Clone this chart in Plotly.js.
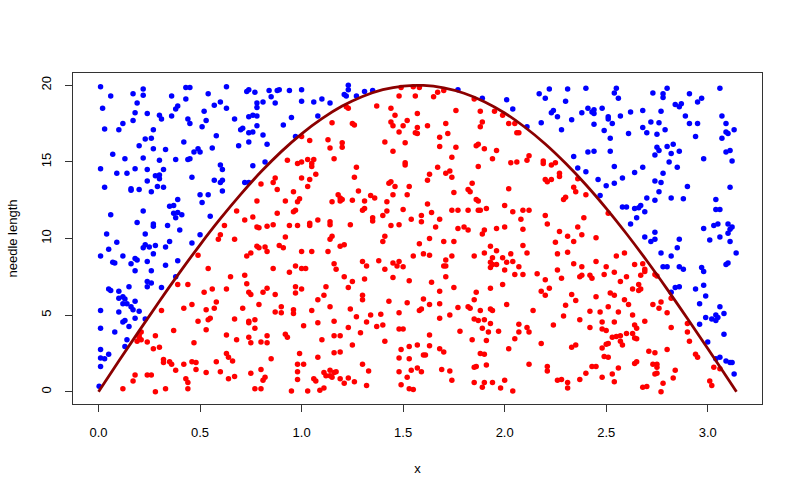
<!DOCTYPE html>
<html>
<head>
<meta charset="utf-8">
<script src="https://cdn.plot.ly/plotly-3.0.1.min.js"></script>
<style>html,body{margin:0;padding:0;background:#fff;}#chart{width:800px;height:496px;}</style>
</head>
<body>
<div id="chart"></div>
<script>
// needle drops that missed the line (above the curve)
const blueX = [0.01,0.06,0.22,0.17,0.22,0.43,0.45,0.63,0.73,0.74,0.36,0.54,0.43,0.19,0.02,0.39,0.38,0.57,0.60,0.63,0.18,0.24,0.30,0.31,0.36,0.52,0.44,0.45,0.53,0.17,0.12,0.10,0.03,0.27,0.51,0.67,0.74,0.76,0.70,0.71,0.74,0.58,0.23,0.26,0.42,0.20,0.27,0.33,0.47,0.49,0.50,0.56,0.69,0.74,0.07,0.13,0.22,0.30,0.38,0.44,0.45,0.60,0.61,0.01,0.09,0.14,0.18,0.24,0.32,0.28,0.30,0.30,0.46,0.24,0.29,0.32,0.57,0.61,0.60,0.72,0.74,0.03,0.16,0.16,0.20,0.26,0.61,0.50,0.54,0.39,0.51,0.35,0.37,0.22,0.37,0.39,0.41,0.38,0.06,0.55,0.19,0.27,0.27,0.34,0.40,0.04,0.23,0.50,
0.77,0.84,0.88,0.89,0.94,1.00,0.85,0.78,0.81,0.87,1.00,1.06,1.10,1.14,0.78,0.78,0.78,0.76,0.81,0.83,0.82,0.76,0.95,0.91,1.08,0.97,1.23,1.23,1.21,1.22,1.27,1.31,1.35,
1.77,1.89,2.01,2.04,2.11,2.17,2.20,2.22,2.31,2.30,2.40,2.23,2.24,2.26,2.33,2.38,2.41,2.43,2.18,2.28,2.34,2.36,2.40,2.41,
2.55,2.54,2.56,2.73,2.78,2.78,2.80,2.91,2.97,2.95,3.06,2.84,2.86,2.87,2.77,2.68,2.62,2.57,2.51,2.51,2.48,2.44,2.44,2.44,2.53,2.49,2.52,2.61,2.68,2.70,2.72,2.76,2.75,2.79,2.89,2.91,2.95,3.07,3.09,3.13,3.10,3.09,3.07,2.94,2.75,2.76,2.74,2.80,2.83,2.82,2.86,2.44,2.52,2.81,2.85,2.98,3.09,3.11,3.12,2.54,2.64,2.68,2.78,2.74,2.77,2.58,2.46,2.50,2.54,2.90,3.11,2.76,2.70,2.74,2.82,2.88,3.04,2.47,2.58,2.60,2.64,2.66,2.67,2.69,2.65,2.62,3.04,3.06,2.98,3.03,3.05,3.10,3.11,3.12,3.10,3.06,2.74,2.69,
0.09,0.05,0.01,0.12,0.07,0.08,0.16,0.18,0.19,0.23,0.22,0.25,0.28,0.33,0.35,0.27,0.24,0.18,0.26,0.33,0.39,0.46,0.38,0.24,0.26,0.24,0.31,0.15,0.05,0.06,0.10,0.12,0.10,0.13,0.12,0.14,0.18,0.16,0.17,0.20,0.10,0.01,0.18,0.23,0.13,0.12,0.15,0.01,0.08,0.14,0.13,0.01,0.05,0.01,0.03,0.01,0.003,
2.72,2.74,2.86,3.01,3.11,3.14,2.77,2.82,2.85,2.78,2.80,2.86,2.88,2.97,2.98,3.09,3.10,2.82,2.84,2.86,2.94,2.98,2.99,2.96,3.06,2.99,3.02,3.04,3.04,3.05,3.08,2.96,3.08,3.00,3.04,3.06,3.09,3.11,3.12,3.13];
const blueY = [19.9,19.3,19.75,19.45,19.35,19.85,19.85,19.9,19.6,19.7,19.3,19.45,19.1,18.85,18.5,18.65,18.45,18.7,18.9,18.5,18.2,18.15,18.05,17.8,18.0,18.3,17.8,17.5,17.7,17.7,17.5,17.1,17.15,17.1,17.3,17.8,17.95,18.05,17.1,17.2,16.9,16.7,16.5,16.55,16.3,16.05,15.85,15.8,15.65,15.85,15.65,15.9,16.05,16.3,15.5,15.2,15.25,15.1,15.15,15.15,15.2,14.8,14.5,14.55,14.25,14.25,14.55,14.5,14.5,14.1,14.15,13.9,14.0,13.75,13.4,13.35,13.8,13.8,13.65,13.65,13.65,13.35,13.25,13.15,13.2,13.05,13.1,12.85,12.85,12.55,12.35,12.1,12.15,11.8,11.65,11.7,11.55,11.35,11.55,11.45,11.05,10.8,10.95,10.85,10.55,10.3,10.3,10.25,
19.55,19.65,19.65,19.7,19.65,19.7,19.25,18.85,18.9,18.85,18.95,18.9,19.1,18.85,18.55,18.0,17.35,16.95,16.75,16.15,15.0,14.75,17.9,17.4,18.0,16.65,20.0,19.7,19.4,19.3,19.3,19.6,19.65,
19.7,19.15,19.05,18.45,17.3,19.45,19.15,19.75,19.75,18.95,19.8,18.2,18.35,17.95,17.75,18.2,18.5,18.25,17.55,17.1,15.35,14.6,14.35,15.65,
19.8,19.5,19.15,19.5,19.45,19.2,19.8,19.45,19.15,18.9,19.8,18.75,18.6,18.8,18.3,18.35,18.25,18.0,17.95,17.8,18.5,18.4,18.15,17.45,17.5,17.05,16.55,16.85,17.25,16.9,17.6,17.55,16.8,17.1,18.0,17.5,17.5,18.0,17.5,17.1,16.85,16.95,16.55,16.65,15.95,15.75,15.45,16.0,16.15,15.55,15.7,15.7,15.7,15.0,14.65,15.2,15.65,15.75,15.05,14.7,14.3,14.65,14.25,13.75,13.65,13.95,13.85,13.45,13.6,13.4,13.35,13.05,12.65,12.5,12.65,12.6,12.55,12.8,12.05,12.05,11.95,12.0,12.15,11.75,11.35,10.95,11.9,11.9,10.65,10.85,10.95,10.95,10.6,10.75,10.35,10.1,10.4,10.1,
9.75,9.3,8.85,8.85,8.45,8.4,8.35,8.7,8.6,9.6,9.4,9.45,9.55,9.45,9.8,9.0,8.5,7.9,7.9,8.25,8.55,9.7,7.5,7.2,7.1,6.85,6.8,6.85,6.7,6.6,6.55,6.2,6.1,6.05,5.75,5.75,5.9,5.55,5.35,5.25,5.2,5.3,4.8,4.75,4.65,4.55,4.25,4.15,3.9,3.4,2.95,2.75,2.45,2.2,2.15,1.65,0.36,
9.8,9.95,9.95,9.9,9.8,9.05,9.05,8.85,9.4,8.15,8.15,8.15,8.0,8.1,7.85,8.3,8.4,6.5,6.8,6.85,6.7,6.95,6.25,5.75,5.55,4.85,4.75,5.0,4.65,4.85,5.1,4.4,3.75,3.25,2.15,2.25,2.0,1.9,1.9,1.15];

// needle drops that crossed the line (below the curve)
const redX = [0.68,0.72,0.76,0.62,0.60,
1.49,1.55,1.58,1.48,1.56,1.22,1.23,1.37,1.44,1.46,1.57,1.15,1.25,1.26,1.44,1.45,1.52,1.50,1.48,1.57,1.56,1.57,1.00,1.04,1.13,1.20,1.20,1.14,1.41,1.51,1.45,1.16,0.93,0.98,1.00,1.03,1.06,1.05,1.05,1.07,1.51,1.51,1.27,1.26,1.00,1.04,1.03,0.87,0.86,0.80,0.88,1.43,1.44,1.46,1.53,0.96,1.18,1.19,1.19,1.20,1.15,1.25,1.28,1.31,1.34,1.36,1.42,1.45,1.52,0.78,0.92,0.98,0.99,0.97,0.96,0.88,1.30,1.31,1.35,1.35,1.40,1.42,1.50,1.54,1.59,1.59,0.78,0.79,0.83,0.86,0.94,0.98,1.04,1.04,1.08,1.14,1.14,1.24,1.44,1.48,0.92,1.15,1.41,
1.65,1.67,1.70,1.76,1.62,1.71,1.72,1.68,1.68,1.85,1.88,1.89,1.88,1.95,1.99,2.02,2.05,2.06,2.07,1.86,1.87,1.90,1.96,1.94,1.76,1.74,1.67,1.63,1.62,1.71,1.73,1.74,1.84,1.82,1.83,1.75,1.87,2.03,2.06,2.11,2.12,2.19,2.19,2.23,2.25,2.27,2.27,2.20,2.21,2.23,2.02,2.34,2.35,2.40,2.30,2.29,1.86,1.87,1.62,1.64,1.68,1.66,1.74,1.77,1.82,1.87,1.88,1.91,2.00,2.04,2.09,2.12,2.08,2.09,2.20,2.21,2.39,2.36,2.27,2.31,2.38,1.77,1.80,1.82,1.90,1.96,2.00,1.89,2.36,
2.51,2.45,
0.59,0.67,0.75,0.73,0.49,0.54,0.65,0.72,0.73,0.63,0.56,0.52,0.44,0.39,0.58,0.57,0.46,0.42,0.53,0.31,0.71,0.74,0.75,0.55,0.54,0.49,0.53,0.67,0.74,0.74,0.37,0.21,0.20,0.20,0.19,0.21,0.24,0.28,0.30,0.27,0.47,0.63,0.68,0.74,0.75,0.63,0.64,0.66,0.58,0.32,0.32,0.35,0.36,0.42,0.46,0.48,0.38,0.48,0.60,0.53,0.64,0.67,0.75,0.18,0.17,0.24,0.26,0.43,0.44,0.12,0.28,0.33,0.44,
0.78,0.79,0.82,0.83,0.89,0.91,1.00,1.05,1.14,1.13,1.19,1.21,1.40,1.58,1.55,0.86,0.94,0.97,1.00,1.02,1.16,1.17,1.30,1.32,1.38,1.41,1.45,1.47,1.48,1.50,1.21,1.25,1.23,1.31,1.45,1.53,0.97,0.97,1.00,0.83,0.81,0.87,1.12,1.11,1.08,1.30,1.30,1.43,1.52,0.79,0.90,0.87,0.90,0.96,0.96,1.05,1.14,1.24,1.27,1.34,1.39,1.32,1.37,1.40,1.48,1.58,1.16,0.77,0.77,1.01,1.08,1.23,1.29,0.83,0.80,0.83,0.92,0.93,1.10,1.16,1.19,1.41,1.48,1.50,1.25,1.16,1.19,0.99,1.08,1.49,1.53,1.57,1.48,1.53,0.85,0.98,1.01,0.98,0.98,1.30,1.33,0.80,0.82,0.81,1.06,1.07,1.11,1.14,1.12,1.14,1.15,1.16,1.17,1.19,1.21,1.23,1.26,1.32,1.48,1.54,1.57,1.52,1.49,1.53,1.55,0.77,0.80,0.95,1.03,1.09,1.11,
1.63,1.70,1.75,1.60,1.63,1.74,1.71,1.70,1.71,1.71,1.64,1.75,1.68,1.60,1.63,1.68,1.68,1.59,1.73,1.77,1.82,1.83,1.85,1.90,1.93,1.94,1.96,1.93,1.94,1.96,1.93,1.99,2.00,2.03,2.04,2.01,2.09,2.11,2.05,2.09,2.07,1.86,1.85,1.93,1.99,2.01,1.88,1.93,1.94,1.85,1.87,1.90,1.93,1.89,1.92,1.97,1.78,1.84,1.91,1.63,1.63,1.68,1.70,1.60,1.61,1.59,1.69,1.73,1.74,2.05,2.07,2.07,2.11,2.12,2.14,2.02,1.88,1.90,1.91,1.85,1.86,1.85,1.89,1.90,1.94,2.00,1.98,2.04,2.12,2.16,2.20,2.18,2.20,2.22,2.25,2.34,2.26,2.31,2.34,2.38,2.26,2.28,2.37,2.38,2.42,2.33,2.35,2.30,2.29,2.37,2.42,2.42,2.24,2.18,2.33,2.35,2.21,2.21,2.26,2.28,2.31,2.31,2.37,2.40,
2.45,2.50,2.55,2.59,2.64,2.68,2.69,2.69,2.49,2.54,2.43,2.57,2.60,2.67,2.74,2.75,2.63,2.66,2.66,2.67,2.52,2.54,2.45,2.59,2.61,2.73,2.77,2.76,2.51,2.47,2.56,2.63,2.69,2.80,2.82,2.82,2.54,2.48,2.48,2.50,2.64,2.65,2.57,2.55,2.60,2.63,2.53,2.57,2.58,2.64,2.65,2.50,2.51,2.48,2.49,2.51,2.43,2.45,2.64,2.65,2.73,2.75,2.75,2.74,2.75,2.71,2.74,2.80,2.84,2.83,2.78,2.77,2.68,2.70,2.56,2.53,2.48,2.54,2.90,2.91,2.90,2.94,2.95,3.03,3.06,3.01,3.02];
const redY = [11.8,11.2,11.4,10.85,10.25,
19.85,19.9,19.85,19.3,19.3,18.6,18.5,18.65,18.5,18.05,18.15,17.55,17.5,17.4,17.6,17.35,17.7,17.35,16.95,17.25,16.9,16.85,16.65,16.4,16.45,16.25,15.95,15.9,16.3,16.25,15.7,15.2,15.1,14.9,15.0,15.15,15.15,14.9,14.7,14.2,14.95,14.8,14.65,14.0,13.95,13.85,13.4,13.95,13.65,13.55,13.2,13.6,13.7,13.4,13.4,13.05,12.85,12.65,12.45,12.55,12.4,12.5,13.1,12.45,12.8,12.65,12.4,12.85,12.85,12.45,12.45,12.4,12.6,11.85,11.75,11.65,11.85,11.95,11.35,11.15,11.5,11.8,11.9,11.25,11.5,11.1,10.75,10.7,10.8,10.9,10.85,10.85,10.85,11.0,11.2,11.1,10.9,10.9,10.85,10.9,10.1,10.15,10.15,
19.25,19.55,19.65,18.35,17.35,17.5,16.85,16.6,16.0,19.1,18.3,17.6,17.3,18.3,18.05,17.5,17.5,16.9,16.9,16.05,16.15,15.85,15.75,15.2,15.95,15.3,14.65,14.2,13.8,14.25,14.4,14.0,13.6,13.2,13.05,13.0,14.7,14.95,15.0,15.1,15.4,15.05,14.9,14.8,14.95,14.25,14.05,13.85,13.7,13.85,13.25,13.35,13.05,12.85,12.7,12.55,12.55,12.45,12.25,11.7,11.25,10.75,11.85,11.85,11.85,11.85,11.85,11.95,12.15,11.75,11.85,11.85,11.25,10.6,11.5,10.95,11.35,10.75,10.45,10.15,10.25,10.65,10.75,10.55,10.55,10.65,10.75,10.3,13.9,
11.65,10.05,
9.95,9.95,9.05,8.85,8.9,8.05,7.5,7.6,7.05,6.7,6.7,6.5,7.0,7.0,5.85,5.45,5.7,5.45,5.35,5.3,5.45,6.5,6.35,4.8,4.7,4.6,4.05,4.75,4.6,4.5,4.0,3.9,3.7,3.55,3.3,3.4,3.25,3.65,2.9,2.8,3.2,3.7,3.4,3.55,3.2,2.5,2.25,2.0,1.95,2.1,1.9,1.95,1.8,1.8,1.95,1.9,1.4,1.45,1.3,1.25,0.85,1.0,1.2,1.1,0.7,1.1,1.1,0.85,0.6,0.2,0.0,0.2,0.2,
9.5,9.4,9.45,9.15,9.55,9.4,9.15,9.15,9.95,9.15,9.5,9.6,9.8,9.65,8.85,8.05,7.8,8.2,8.05,8.05,8.35,8.0,8.5,8.2,8.55,8.0,8.4,8.2,8.5,8.15,7.5,7.2,6.8,7.35,7.45,7.25,6.85,6.45,6.7,6.75,6.5,6.35,6.85,6.3,6.0,6.0,6.3,5.9,5.8,5.7,5.55,5.2,5.15,5.35,5.1,5.3,5.55,5.4,4.9,5.0,5.05,4.55,4.25,4.35,5.15,5.3,4.6,4.7,4.15,4.3,4.5,4.2,3.85,3.65,3.25,3.2,3.75,3.55,3.4,3.65,3.65,3.3,4.1,4.1,3.05,2.55,2.6,2.5,2.25,2.75,2.95,3.05,2.2,2.15,2.15,1.8,1.8,1.3,0.8,1.8,1.35,1.45,0.95,0.75,0.85,0.7,1.25,1.4,1.05,1.05,0.95,1.25,1.3,0.85,0.55,0.9,0.65,0.4,1.3,1.4,1.55,0.95,0.45,0.2,0.15,0.2,0.2,0.05,0.05,0.1,0.25,
10.0,9.8,9.8,9.0,8.9,8.85,8.6,8.2,8.2,7.5,7.15,6.8,6.55,6.05,5.7,5.75,4.8,5.4,5.0,5.5,5.55,5.45,8.85,9.05,9.5,8.75,9.2,8.45,8.3,8.3,8.1,8.75,7.95,9.0,8.5,8.45,9.55,9.05,7.65,7.65,8.15,6.5,6.0,6.75,7.0,5.7,5.3,5.4,5.3,4.75,4.65,4.7,4.45,4.15,3.9,3.95,3.95,3.4,3.35,3.7,3.0,2.8,2.6,2.4,2.4,1.3,1.45,1.35,0.75,3.45,3.9,4.4,4.2,3.9,5.3,2.8,2.5,2.45,1.75,1.6,1.65,0.6,0.3,0.6,0.6,0.75,0.25,0.05,1.8,7.7,7.3,6.55,6.3,6.75,9.75,9.8,9.0,9.1,8.35,8.15,7.95,7.4,7.5,7.6,7.6,6.35,5.95,5.65,4.95,4.7,5.25,4.2,4.35,3.15,2.9,3.05,1.65,1.35,0.75,0.8,0.6,0.25,0.8,1.2,
8.5,8.15,8.85,9.05,8.3,8.35,8.0,7.85,7.65,7.8,7.4,7.2,7.5,7.6,7.65,7.55,6.7,7.0,6.6,6.7,6.45,6.3,6.2,6.0,5.7,5.7,5.85,5.45,5.55,5.2,5.2,5.0,4.6,5.15,6.1,4.2,4.55,4.55,4.1,4.0,4.35,4.15,3.65,3.6,3.8,3.8,3.55,3.3,3.05,3.5,3.45,3.1,3.15,2.85,2.3,2.25,1.65,1.65,1.85,1.95,1.8,1.8,1.6,1.15,1.2,2.65,2.55,2.75,1.4,0.9,0.55,0.0,0.3,0.35,1.55,1.15,0.95,0.65,3.9,3.3,4.45,2.45,2.25,1.6,1.5,0.7,0.4];

// the boundary curve
const curveX = [0,0.1,0.2,0.3,0.4,0.5,0.6,0.7,0.8,0.9,1.0,1.1,1.2,1.3,1.4,1.5,1.6,1.7,1.8,1.9,2.0,2.1,2.2,2.3,2.4,2.5,2.6,2.7,2.8,2.9,3.0,3.1,3.1416];
const curveY = [0,2.00,3.97,5.91,7.79,9.59,11.29,12.88,14.35,15.67,16.83,17.82,18.64,19.27,19.71,19.95,19.99,19.83,19.48,18.93,18.19,17.26,16.17,14.91,13.51,11.97,10.31,8.55,6.70,4.78,2.82,0.83,0];

const xTicks = [0, 0.5, 1.0, 1.5, 2.0, 2.5, 3.0];
const xTickText = ["0.0","0.5","1.0","1.5","2.0","2.5","3.0"];
const yTicks = [0, 5, 10, 15, 20];
const yTickText = ["0","5","10","15","20"];

const FONT = "Liberation Sans, Arial, Helvetica, sans-serif";

const traces = [
  {x: blueX, y: blueY, type: 'scatter', mode: 'markers', marker: {color: '#0000FF', size: 5.5}, hoverinfo: 'skip'},
  {x: redX, y: redY, type: 'scatter', mode: 'markers', marker: {color: '#FF0000', size: 5.5}, hoverinfo: 'skip'},
  {x: curveX, y: curveY, type: 'scatter', mode: 'lines', line: {color: '#8B0000', width: 2.8, shape: 'spline'}, hoverinfo: 'skip'}
];

const layout = {
  width: 800, height: 496,
  margin: {l: 73, r: 38, t: 73, b: 92},
  paper_bgcolor: '#fff', plot_bgcolor: '#fff',
  showlegend: false,
  font: {family: FONT, size: 13, color: '#000'},
  xaxis: {
    range: [-0.1257, 3.2673], tickvals: xTicks, ticktext: xTickText,
    showgrid: false, zeroline: false, showline: true, mirror: true,
    linecolor: '#333', linewidth: 1, ticks: 'outside', ticklen: 7, tickcolor: '#333',
    ticklabelstandoff: 9,
    tickfont: {family: FONT, size: 13, color: '#000'},
    title: {text: 'x', font: {family: FONT, size: 13, color: '#000'}, standoff: 25}
  },
  yaxis: {
    range: [-0.8, 20.8], tickvals: yTicks, ticktext: yTickText,
    showgrid: false, zeroline: false, showline: true, mirror: true,
    linecolor: '#333', linewidth: 1, ticks: 'outside', ticklen: 7, tickcolor: '#333',
    tickangle: -90, ticklabelstandoff: 9,
    tickfont: {family: FONT, size: 13, color: '#000'},
    title: {text: 'needle length', font: {family: FONT, size: 13, color: '#000'}, standoff: 18}
  }
};

Plotly.newPlot('chart', traces, layout, {staticPlot: true, displayModeBar: false});
</script>
</body>
</html>
